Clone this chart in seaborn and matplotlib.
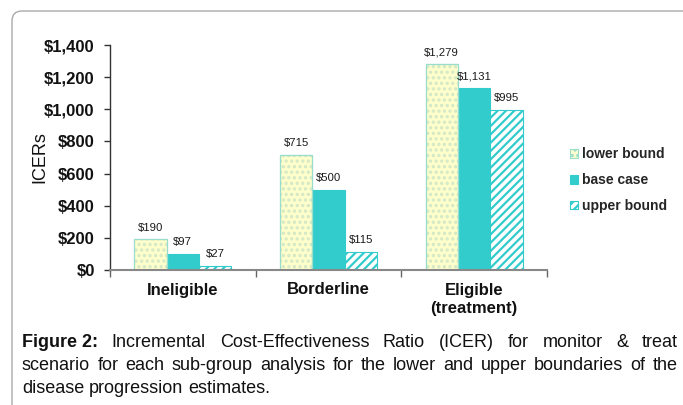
import matplotlib
matplotlib.use('Agg')
import matplotlib.pyplot as plt
import seaborn as sns
import pandas as pd
from matplotlib.patches import Patch, FancyBboxPatch

sns.set_theme(style='white')
plt.rcParams['font.family'] = ['Liberation Sans', 'DejaVu Sans']
plt.rcParams['hatch.linewidth'] = 1.6

# ---Data---
groups = ['Ineligible', 'Borderline', 'Eligible\n(treatment)']
scenarios = ['lower bound', 'base case', 'upper bound']
lower_bound = [190, 715, 1279]
base_case = [97, 500, 1131]
upper_bound = [27, 115, 995]
y_ticks = [0, 200, 400, 600, 800, 1000, 1200, 1400]

df = pd.DataFrame({
    'group': groups * 3,
    'scenario': [s for s in scenarios for _ in groups],
    'value': lower_bound + base_case + upper_bound,
})

# ---Styles per scenario---
styles = {
    'lower bound': dict(facecolor='#FFFFCC', edgecolor='#D3E8C6', hatch='...'),
    'base case': dict(facecolor='#33CCCC', edgecolor='#33CCCC', hatch=None),
    'upper bound': dict(facecolor='white', edgecolor='#33CCCC', hatch='////'),
}

fig = plt.figure(figsize=(6.83, 4.05), dpi=100)
ax = fig.add_axes([110 / 683, 1 - 270 / 405, 437 / 683, 225 / 405])

sns.barplot(data=df, x='group', y='value', hue='scenario', hue_order=scenarios,
            palette=['#FFFFCC', '#33CCCC', 'white'], width=0.667, gap=0,
            saturation=1, errorbar=None, legend=False, ax=ax)

for cont, s in zip(ax.containers, scenarios):
    for bar in cont:
        bar.set_facecolor(styles[s]['facecolor'])
        bar.set_edgecolor(styles[s]['edgecolor'])
        bar.set_hatch(styles[s]['hatch'])
        bar.set_linewidth(0.8)
    if s == 'lower bound':
        # outline of the dotted bars is a light teal, drawn over the faint dots
        for bar in cont:
            ax.add_patch(plt.Rectangle(bar.get_xy(), bar.get_width(), bar.get_height(),
                                       fill=False, edgecolor='#99DDCC', linewidth=0.9))
    vals = [b.get_height() for b in cont]
    ax.bar_label(cont, labels=[f'${v:,.0f}' for v in vals], padding=5,
                 fontsize=8.2, color='#1a1a1a')

# ---Axes---
ax.set_ylim(0, 1400)
ax.set_xlim(-0.5, 2.5)
ax.set_yticks(y_ticks)
ax.set_yticklabels([f'${v:,}' for v in y_ticks], fontsize=12, fontweight='bold')
ax.set_xticks([0, 1, 2])
ax.set_xticklabels(groups, fontsize=12, fontweight='bold', linespacing=1.25)
ax.set_xticks([-0.5, 0.5, 1.5, 2.5], minor=True)
ax.tick_params(axis='x', which='major', length=0, pad=9, colors='#111111')
ax.tick_params(axis='x', which='minor', length=5, width=1, color='#666666', bottom=True)
ax.tick_params(axis='y', length=4, width=1, pad=7, color='#333333', left=True, colors='#111111')
ax.set_xlabel('')
ax.set_ylabel('ICERs', fontsize=13, color='#111111')
ax.yaxis.set_label_coords(-62 / 437, 0.5)
for side in ['top', 'right']:
    ax.spines[side].set_visible(False)
ax.spines['left'].set_color('#333333')
ax.spines['bottom'].set_color('#888888')
ax.spines['bottom'].set_linewidth(1.5)
ax.spines['left'].set_linewidth(1)
ax.grid(False)

# ---Legend---
handles = [Patch(facecolor=styles[s]['facecolor'],
                 edgecolor='#99DDCC' if s == 'lower bound' else styles[s]['edgecolor'],
                 hatch=styles[s]['hatch'], linewidth=0.8) for s in scenarios]
fig.legend(handles, scenarios, loc='center left', bbox_to_anchor=(557 / 683, 1 - 180 / 405),
           frameon=False, prop={'weight': 'bold', 'size': 10}, handlelength=0.6,
           handleheight=0.6, handletextpad=0.3, labelspacing=0.85)

# ---Border---
fig.patches.append(FancyBboxPatch((0.12, -0.3), 7.5, 4.05 - 0.11 + 0.3,
                                  boxstyle='round,pad=0,rounding_size=0.1',
                                  transform=fig.dpi_scale_trans, fill=False,
                                  edgecolor='#AAAAAA', linewidth=1))

# ---Caption (justified lines)---
cap_lines = [
    [('Figure 2:', 'bold')] + [(w, 'normal') for w in
                               'Incremental Cost-Effectiveness Ratio (ICER) for monitor & treat'.split()],
    [(w, 'normal') for w in
     'scenario for each sub-group analysis for the lower and upper boundaries of the'.split()],
    [(w, 'normal') for w in 'disease progression estimates.'.split()],
]
baselines = [347, 370, 393]
x_left, x_right = 22, 678
renderer = fig.canvas.get_renderer()
cap_size = 13
for li, (words, yb) in enumerate(zip(cap_lines, baselines)):
    texts = []
    for w, wt in words:
        t = fig.text(0, 1 - yb / 405, w, fontsize=cap_size, fontweight=wt,
                     va='baseline', ha='left', color='#111111')
        texts.append(t)
    widths = [t.get_window_extent(renderer=renderer).width for t in texts]
    if li < 2:
        gap = (x_right - x_left - sum(widths)) / (len(texts) - 1)
    else:
        space = fig.text(0, 0, 'a b', fontsize=cap_size).get_window_extent(renderer=renderer).width
        ab = fig.text(0, 0, 'ab', fontsize=cap_size).get_window_extent(renderer=renderer).width
        gap = space - ab
        fig.texts[-2:] = []
    x = x_left
    for t, wdt in zip(texts, widths):
        t.set_x(x / 683)
        x += wdt + gap

fig.savefig('out.png', dpi=100)
